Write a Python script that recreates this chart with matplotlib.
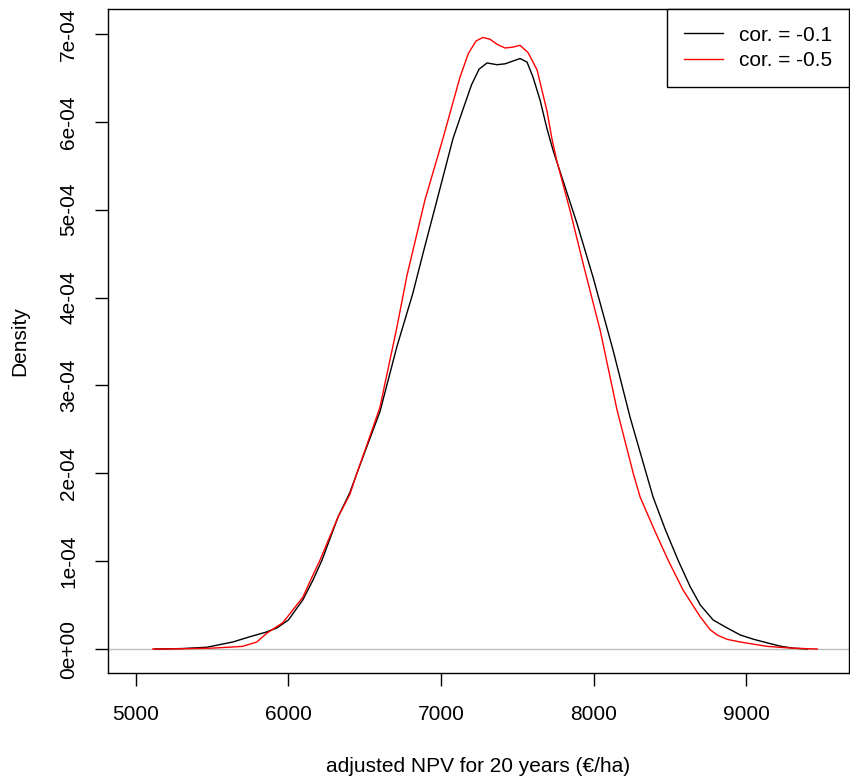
import matplotlib
matplotlib.use("Agg")
import matplotlib.pyplot as plt

plt.rcParams['font.family'] = ['Liberation Sans', 'DejaVu Sans']

# density curves (x in EUR/ha, y in units of 1e-4)
npv_01 = [5125, 5300, 5466, 5636, 5748, 5850, 5925, 6000, 6095, 6160, 6220, 6325,
          6403, 6449, 6520, 6600, 6711, 6816, 6882, 6974, 7079, 7140, 7200, 7250,
          7302, 7367, 7420, 7518, 7564, 7603, 7649, 7695, 7734, 7800, 7892, 7997,
          8128, 8239, 8345, 8390, 8470, 8554, 8633, 8700, 8784, 8875, 8961, 9050,
          9138, 9230, 9308, 9400]
dens_01 = [0.0, 0.005, 0.02, 0.08, 0.14, 0.19, 0.24, 0.33, 0.56, 0.78, 1.01, 1.50,
           1.78, 2.00, 2.33, 2.70, 3.44, 4.05, 4.50, 5.11, 5.81, 6.12, 6.42, 6.60,
           6.67, 6.65, 6.66, 6.72, 6.68, 6.51, 6.25, 5.92, 5.68, 5.33, 4.84, 4.23,
           3.40, 2.64, 2.00, 1.73, 1.36, 1.01, 0.71, 0.50, 0.33, 0.24, 0.16, 0.11,
           0.07, 0.03, 0.01, 0.0]

npv_05 = [5111, 5300, 5500, 5700, 5793, 5859, 5964, 6095, 6150, 6207, 6325, 6403,
          6449, 6520, 6600, 6711, 6777, 6843, 6895, 7013, 7125, 7180, 7230, 7275,
          7321, 7370, 7420, 7470, 7518, 7570, 7630, 7695, 7728, 7760, 7846, 7931,
          8043, 8154, 8260, 8305, 8400, 8489, 8587, 8698, 8764, 8810, 8875, 8961,
          9138, 9300, 9466]
dens_05 = [0.0, 0.003, 0.01, 0.03, 0.08, 0.18, 0.30, 0.59, 0.80, 1.01, 1.50, 1.76,
           2.00, 2.35, 2.75, 3.66, 4.25, 4.73, 5.11, 5.81, 6.51, 6.78, 6.92, 6.96,
           6.94, 6.88, 6.84, 6.85, 6.87, 6.79, 6.59, 6.12, 5.80, 5.55, 4.99, 4.39,
           3.63, 2.72, 2.00, 1.73, 1.35, 1.01, 0.67, 0.37, 0.22, 0.16, 0.11, 0.08,
           0.03, 0.01, 0.0]

labels = ['cor. = -0.1', 'cor. = -0.5']
x_ticks = [5000, 6000, 7000, 8000, 9000]
y_ticks = [0, 1e-4, 2e-4, 3e-4, 4e-4, 5e-4, 6e-4, 7e-4]
y_ticklabels = ['0e+00', '1e-04', '2e-04', '3e-04', '4e-04', '5e-04', '6e-04', '7e-04']

fig = plt.figure(figsize=(8.5, 7.83), dpi=100)
ax = fig.add_axes([108 / 850, 1 - 673 / 783, 741 / 850, 664 / 783])

ax.axhline(0, color='#bebebe', lw=1)
ax.plot(npv_01, [d * 1e-4 for d in dens_01], color='black', lw=1, label=labels[0])
ax.plot(npv_05, [d * 1e-4 for d in dens_05], color='red', lw=1, label=labels[1])

ax.set_xlim(4818, 9674)
ax.set_ylim(-0.273e-4, 7.284e-4)
ax.set_xticks(x_ticks)
ax.set_xticklabels([str(v) for v in x_ticks])
ax.set_yticks(y_ticks)
ax.set_yticklabels(y_ticklabels, rotation=90, va='center')

ax.tick_params(axis='both', length=9.4, width=1, labelsize=15)
ax.tick_params(axis='x', pad=14)
ax.tick_params(axis='y', pad=12)
for s in ax.spines.values():
    s.set_linewidth(1)

fig.text(478 / 850, 1 - 767 / 783, 'adjusted NPV for 20 years (€/ha)',
         ha='center', va='center', fontsize=15)
fig.text(20 / 850, 1 - 341 / 783, 'Density', ha='center', va='center',
         rotation=90, fontsize=15)

leg = ax.legend(loc='upper right', bbox_to_anchor=(1, 1), borderaxespad=0,
                fontsize=15, fancybox=False, edgecolor='black', framealpha=1,
                handlelength=1.85, handletextpad=0.8, borderpad=0.8,
                labelspacing=0.3)
leg.get_frame().set_linewidth(1)

fig.savefig('out.png', dpi=100)
